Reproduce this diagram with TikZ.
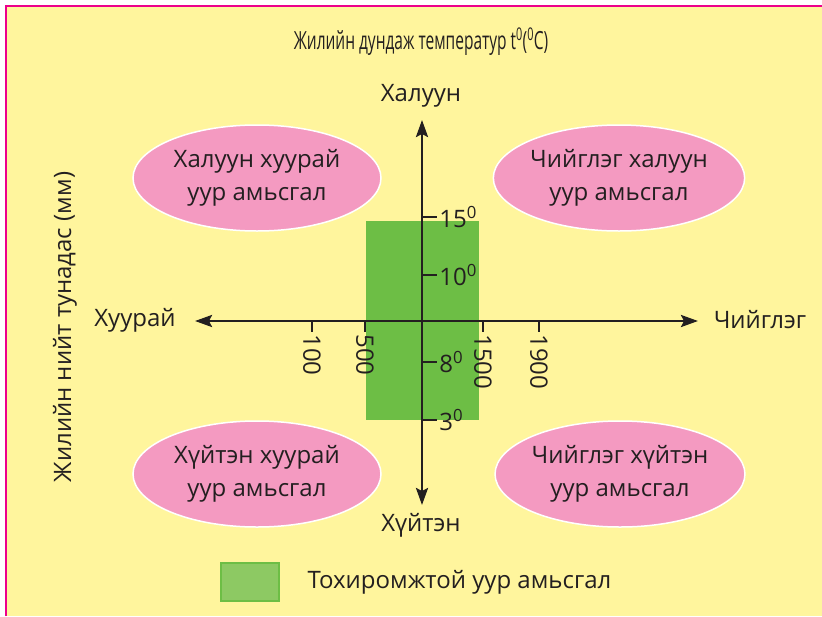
\documentclass[tikz,border=0pt]{standalone}
\usepackage{fontspec}
\usepackage{graphicx}
\setmainfont{Open Sans}
\usetikzlibrary{arrows.meta, positioning, shapes.geometric}
\definecolor{paper}{HTML}{FFF59D}
\definecolor{rim}{HTML}{EC008C}
\definecolor{blob}{HTML}{F49AC1}
\definecolor{zone}{HTML}{6DBE45}
\definecolor{zonekey}{HTML}{8DC963}
\definecolor{ink}{HTML}{231F20}
\newcommand{\zerodeg}{\textsuperscript{0}}

\begin{document}
\begin{tikzpicture}[
    x=1pt, y=-1pt,
    >={Stealth[length=17pt, width=12pt, inset=3pt]},
    climate/.style ={ellipse, draw=white, line width=1.5pt, fill=blob,
                     minimum width=248pt, minimum height=106pt, inner sep=0pt,
                     align=center, text=ink, font=\fontsize{24}{33}\selectfont},
    axislbl/.style ={text=ink, font=\fontsize{24}{28}\selectfont},
    axisline/.style={<->, line width=2.6pt, draw=ink},
    tickmark/.style={line width=2.6pt, draw=ink},
    ticklbl/.style ={text=ink, inner sep=1pt, font=\fontsize{24}{28}\selectfont},
    keybox/.style  ={draw=zone, line width=2pt, fill=zonekey,
                     minimum width=58pt, minimum height=38pt},
]
\useasboundingbox (0,0) rectangle (822,616);
\fill[white] (0,0) rectangle (822,616);
\fill[paper] (6,6) rectangle (822,616);
\draw[rim, line width=2.5pt] (6,616) -- (6,6) -- (822,6);

% suitable zone
\fill[zone] (366,221) rectangle (479,420);

% axes
\coordinate (west)  at (195,321);
\coordinate (east)  at (698,321);
\coordinate (north) at (422,120);
\coordinate (south) at (422,505);
\draw[axisline] (west) -- (east);
\draw[axisline] (south) -- (north);

\node[axislbl] (dry)  at (135,320) {Хуурай};
\node[axislbl] (wet)  at (760,320) {Чийглэг};
\node[axislbl] (hot)  at (421,96)  {Халуун};
\node[axislbl] (cold) at (421,525) {Хүйтэн};

% temperature ticks
\foreach \y/\t in {217/15, 275/10, 362/8, 420/3}
  \draw[tickmark] (422,\y) -- (437,\y) node[ticklbl, anchor=west] {\t\zerodeg};

% precipitation ticks
\foreach \x/\t in {312/100, 365/500, 483/1500, 539/1900}
  \draw[tickmark] (\x,321) -- (\x,332) node[ticklbl, anchor=west, rotate=-90] {\t};

% climate types
\node[climate] (hotdry)  at (257,178) {Халуун хуурай\\уур амьсгал};
\node[climate] (hotwet)  at (619,178) {Чийглэг халуун\\уур амьсгал};
\node[climate] (colddry) at (257,474) {Хүйтэн хуурай\\уур амьсгал};
\node[climate] (coldwet) at (620,474) {Чийглэг хүйтэн\\уур амьсгал};

% titles
\node[text=ink] (title) at (421,42)
  {\scalebox{0.62}[1]{\fontsize{25}{28}\selectfont Жилийн дундаж температур t\zerodeg(\zerodeg C)}};
\node[axislbl, rotate=90] (rain) at (65,327) {Жилийн нийт тунадас (мм)};

% legend
\node[keybox] (key) at (250,582) {};
\node[axislbl, right=24pt of key] (keytext) {Тохиромжтой уур амьсгал};
\end{tikzpicture}
\end{document}
